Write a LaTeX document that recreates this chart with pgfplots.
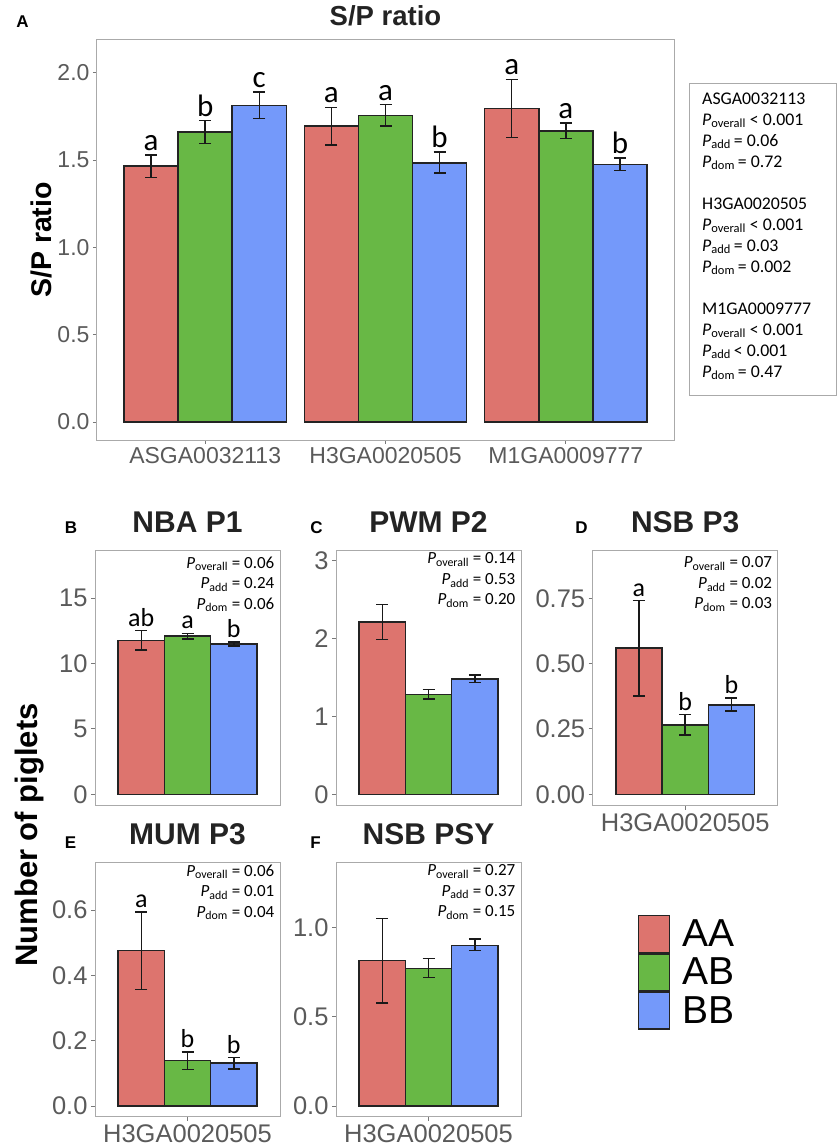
\documentclass[border=0pt]{standalone}
\usepackage{fontspec}
\setmainfont{Liberation Sans}
\newfontfamily\carlito{Carlito}
\usepackage{pgfplots}
\pgfplotsset{compat=1.18}

\definecolor{cAA}{RGB}{221,116,110}
\definecolor{cAB}{RGB}{104,184,69}
\definecolor{cBB}{RGB}{116,153,250}
\definecolor{axgray}{RGB}{170,170,170}
\definecolor{tickgray}{RGB}{120,120,120}
\definecolor{labgray}{RGB}{90,90,90}
\definecolor{barline}{RGB}{35,35,35}
\definecolor{titlec}{RGB}{35,35,35}

\newcommand\Pv[1]{\textit{P}\textsubscript{#1}}

\pgfplotsset{
 panel/.style={scale only axis, clip=false,
   axis line style={draw=axgray, line width=1pt},
   tick align=outside, major tick length=4pt,
   tick style={draw=tickgray, line width=1pt}, tick pos=left,
   ticklabel style={text=labgray},
   xmin=0.4, xmax=1.6,
   title style={font=\bfseries\fontsize{30}{30}\selectfont, text=titlec, anchor=base, at={(axis description cs:0.5,1)}},
   yticklabel style={font=\fontsize{25.5}{25.5}\selectfont},
   xticklabel style={font=\fontsize{25.5}{25.5}\selectfont}},
 bars/.style={ybar, bar width=0.3, bar shift=0pt, draw=barline, line width=1.5pt, fill=#1,
   error bars/.cd, y dir=both, y explicit,
   error bar style={line width=1.5pt, draw=black!90},
   error mark options={rotate=90, mark size=6pt, line width=1.5pt, draw=black!90}},
 letters/.style={only marks, mark=*, mark size=0pt, mark options={draw=none, fill=none},
   nodes near coords, point meta=explicit symbolic,
   nodes near coords style={anchor=south, inner sep=4pt, text=black, font=\carlito\fontsize{#1}{#1}\selectfont}},
}

\begin{document}
\begin{tikzpicture}
\path[use as bounding box] (0pt,0pt) rectangle (837pt,-1148pt);

% ---------------- Panel A ----------------
\begin{axis}[panel, at={(97pt,-40pt)}, anchor=north west, width=577pt, height=400pt,
  xmin=0.4, xmax=3.6, ymin=-0.103, ymax=2.187,
  xtick={1,2,3}, xticklabels={ASGA0032113,H3GA0020505,M1GA0009777},
  ytick={0,0.5,1,1.5,2}, yticklabels={0.0,0.5,1.0,1.5,2.0},
  xticklabel style={font=\fontsize{23}{23}\selectfont},
  yticklabel style={font=\fontsize{23}{23}\selectfont},
  title={S/P ratio}, title style={font=\bfseries\fontsize{27.5}{27.5}\selectfont, yshift=8pt},
  ylabel={S/P ratio},
  ylabel style={font=\bfseries\fontsize{28.5}{28.5}\selectfont, text=black, at={(axis description cs:-0.0785,0.5)}, anchor=base}]
\addplot[bars=cAA] table[x=x, y=y, y error plus=ep, y error minus=em] {
x y ep em
0.7 1.465 0.065 0.065
1.7 1.694 0.107 0.107
2.7 1.796 0.166 0.166
};
\addplot[bars=cAB] table[x=x, y=y, y error plus=ep, y error minus=em] {
x y ep em
1.0 1.660 0.065 0.065
2.0 1.756 0.062 0.062
3.0 1.666 0.045 0.044
};
\addplot[bars=cBB] table[x=x, y=y, y error plus=ep, y error minus=em] {
x y ep em
1.3 1.813 0.076 0.075
2.3 1.484 0.061 0.059
3.3 1.475 0.036 0.036
};
\addplot[letters=31] table[x=x, y=y, meta=lab] {
x y lab
0.7 1.530 a
1.0 1.725 b
1.3 1.889 c
1.7 1.801 a
2.0 1.818 a
2.3 1.545 b
2.7 1.962 a
3.0 1.711 a
3.3 1.511 b
};
\end{axis}

% P-value box for panel A
\draw[axgray, line width=0.8pt] (689pt,-83pt) rectangle (836pt,-395pt);
\node[anchor=north west, inner sep=0pt, align=left, font=\carlito\fontsize{17.8}{21}\selectfont] at (702pt,-92.5pt)
 {ASGA0032113\\ \Pv{overall} < 0.001\\ \Pv{add}\,= 0.06\\ \Pv{dom}\,= 0.72\\[21pt]
  H3GA0020505\\ \Pv{overall} < 0.001\\ \Pv{add}\,= 0.03\\ \Pv{dom}\,= 0.002\\[21pt]
  M1GA0009777\\ \Pv{overall} < 0.001\\ \Pv{add}\,< 0.001\\ \Pv{dom}\,= 0.47};

% ---------------- Panel B ----------------
\begin{axis}[panel, at={(95pt,-550pt)}, anchor=north west, width=185pt, height=255.7pt,
  ymin=-0.87, ymax=18.69, xtick=\empty, ytick={0,5,10,15}, yticklabels={0,5,10,15},
  title={NBA P1}, title style={yshift=11.7pt}]
\addplot[bars=cAA] table[x=x, y=y, y error plus=ep, y error minus=em] {
x y ep em
0.7 11.78 0.74 0.74
};
\addplot[bars=cAB] table[x=x, y=y, y error plus=ep, y error minus=em] {
x y ep em
1.0 12.11 0.21 0.23
};
\addplot[bars=cBB] table[x=x, y=y, y error plus=ep, y error minus=em] {
x y ep em
1.3 11.50 0.15 0.15
};
\addplot[letters=26] table[x=x, y=y, meta=lab] {
x y lab
0.7 12.52 ab
1.0 12.32 a
1.3 11.65 b
};
\node[anchor=north east, inner sep=0pt, align=right, xshift=-5.5pt, yshift=-6.7pt, font=\carlito\fontsize{17}{20.5}\selectfont] at (rel axis cs:1,1)
 {\Pv{overall} = 0.06\\ \Pv{add} = 0.24\\ \Pv{dom} = 0.06};
\end{axis}

% ---------------- Panel C ----------------
\begin{axis}[panel, at={(336pt,-550pt)}, anchor=north west, width=185pt, height=255.7pt,
  ymin=-0.147, ymax=3.141, xtick=\empty, ytick={0,1,2,3}, yticklabels={0,1,2,3},
  title={PWM P2}, title style={yshift=11.7pt}]
\addplot[bars=cAA] table[x=x, y=y, y error plus=ep, y error minus=em] {
x y ep em
0.7 2.215 0.228 0.222
};
\addplot[bars=cAB] table[x=x, y=y, y error plus=ep, y error minus=em] {
x y ep em
1.0 1.286 0.064 0.061
};
\addplot[bars=cBB] table[x=x, y=y, y error plus=ep, y error minus=em] {
x y ep em
1.3 1.482 0.052 0.042
};
\node[anchor=north east, inner sep=0pt, align=right, xshift=-5.5pt, yshift=-2.7pt, font=\carlito\fontsize{17}{20.5}\selectfont] at (rel axis cs:1,1)
 {\Pv{overall} = 0.14\\ \Pv{add} = 0.53\\ \Pv{dom} = 0.20};
\end{axis}

% ---------------- Panel D ----------------
\begin{axis}[panel, at={(592.7pt,-550pt)}, anchor=north west, width=185pt, height=255.7pt,
  ymin=-0.0436, ymax=0.935, xtick={1}, xticklabels={H3GA0020505},
  ytick={0,0.25,0.5,0.75}, yticklabels={0.00,0.25,0.50,0.75},
  title={NSB P3}, title style={yshift=11.7pt}]
\addplot[bars=cAA] table[x=x, y=y, y error plus=ep, y error minus=em] {
x y ep em
0.7 0.560 0.181 0.183
};
\addplot[bars=cAB] table[x=x, y=y, y error plus=ep, y error minus=em] {
x y ep em
1.0 0.266 0.039 0.039
};
\addplot[bars=cBB] table[x=x, y=y, y error plus=ep, y error minus=em] {
x y ep em
1.3 0.342 0.027 0.023
};
\addplot[letters=26] table[x=x, y=y, meta=lab] {
x y lab
0.7 0.741 a
1.0 0.305 b
1.3 0.369 b
};
\node[anchor=north east, inner sep=0pt, align=right, xshift=-5.5pt, yshift=-6.7pt, font=\carlito\fontsize{17}{20.5}\selectfont] at (rel axis cs:1,1)
 {\Pv{overall} = 0.07\\ \Pv{add} = 0.02\\ \Pv{dom} = 0.03};
\end{axis}

% ---------------- Panel E ----------------
\begin{axis}[panel, at={(95pt,-862.3pt)}, anchor=north west, width=185pt, height=254.4pt,
  ymin=-0.0327, ymax=0.746, xtick={1}, xticklabels={H3GA0020505},
  ytick={0,0.2,0.4,0.6}, yticklabels={0.0,0.2,0.4,0.6},
  title={MUM P3}, title style={yshift=11.6pt}]
\addplot[bars=cAA] table[x=x, y=y, y error plus=ep, y error minus=em] {
x y ep em
0.7 0.4755 0.119 0.119
};
\addplot[bars=cAB] table[x=x, y=y, y error plus=ep, y error minus=em] {
x y ep em
1.0 0.139 0.027 0.027
};
\addplot[bars=cBB] table[x=x, y=y, y error plus=ep, y error minus=em] {
x y ep em
1.3 0.131 0.017 0.017
};
\addplot[letters=26] table[x=x, y=y, meta=lab] {
x y lab
0.7 0.595 a
1.0 0.166 b
1.3 0.148 b
};
\node[anchor=north east, inner sep=0pt, align=right, xshift=-5.5pt, yshift=-2.1pt, font=\carlito\fontsize{17}{20.5}\selectfont] at (rel axis cs:1,1)
 {\Pv{overall} = 0.06\\ \Pv{add} = 0.01\\ \Pv{dom} = 0.04};
\end{axis}

% ---------------- Panel F ----------------
\begin{axis}[panel, at={(336pt,-862.3pt)}, anchor=north west, width=185pt, height=254.4pt,
  ymin=-0.06, ymax=1.367, xtick={1}, xticklabels={H3GA0020505},
  ytick={0,0.5,1}, yticklabels={0.0,0.5,1.0},
  title={NSB PSY}, title style={yshift=11.6pt},
  legend style={at={(axis description cs:1.631,0.568)}, anchor=west, draw=none, fill=none,
    inner sep=0pt, row sep=0pt, nodes={inner sep=0pt, text=black},
    font=\fontsize{39}{39}\selectfont},
  legend cell align=left,
  legend image code/.code={\draw[#1, line width=1.5pt] (0pt,-18.35pt) rectangle (31pt,18.35pt);}]
\addplot[bars=cAA] table[x=x, y=y, y error plus=ep, y error minus=em] {
x y ep em
0.7 0.815 0.238 0.236
};
\addlegendentry{\hspace*{12pt}AA}
\addplot[bars=cAB] table[x=x, y=y, y error plus=ep, y error minus=em] {
x y ep em
1.0 0.772 0.056 0.052
};
\addlegendentry{\hspace*{12pt}AB}
\addplot[bars=cBB] table[x=x, y=y, y error plus=ep, y error minus=em] {
x y ep em
1.3 0.901 0.036 0.029
};
\addlegendentry{\hspace*{12pt}BB}
\node[anchor=north east, inner sep=0pt, align=right, xshift=-5.5pt, yshift=-2.1pt, font=\carlito\fontsize{17}{20.5}\selectfont] at (rel axis cs:1,1)
 {\Pv{overall} = 0.27\\ \Pv{add} = 0.37\\ \Pv{dom} = 0.15};
\end{axis}

% panel letters and shared y label
\node[font=\bfseries\fontsize{17}{17}\selectfont] at (22.5pt,-21.5pt) {A};
\node[font=\bfseries\fontsize{17}{17}\selectfont] at (71pt,-528pt) {B};
\node[font=\bfseries\fontsize{17}{17}\selectfont] at (316.5pt,-528pt) {C};
\node[font=\bfseries\fontsize{17}{17}\selectfont] at (581.5pt,-528pt) {D};
\node[font=\bfseries\fontsize{17}{17}\selectfont] at (70.5pt,-842.5pt) {E};
\node[font=\bfseries\fontsize{17}{17}\selectfont] at (315.5pt,-842.5pt) {F};
\node[rotate=90, anchor=base, font=\bfseries\fontsize{31}{31}\selectfont] at (37pt,-835pt) {Number of piglets};
\end{tikzpicture}
\end{document}
